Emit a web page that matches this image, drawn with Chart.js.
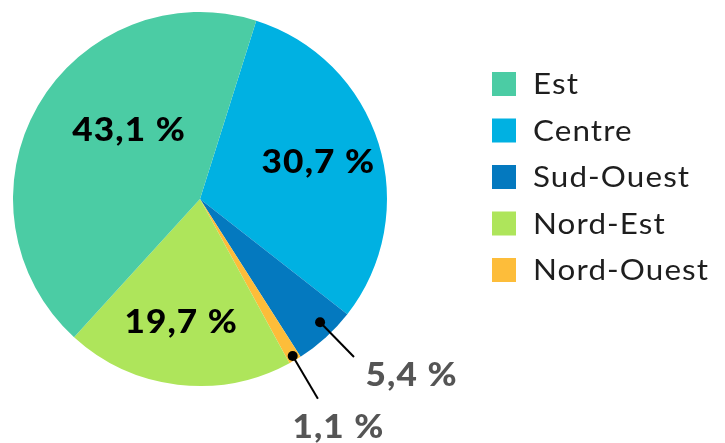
<!DOCTYPE html>
<html>
<head>
<meta charset="utf-8">
<script src="https://cdn.jsdelivr.net/npm/chart.js@4/dist/chart.umd.min.js"></script>
<style>
  html, body { margin: 0; padding: 0; background: #fff; }
  #wrap { width: 725px; height: 443px; }
</style>
</head>
<body>
<div id="wrap"><canvas id="pie" width="725" height="443"></canvas></div>
<script>
// drawing order (clockwise from the Est/Centre border)
const regions = ['Centre', 'Sud-Ouest', 'Nord-Ouest', 'Nord-Est', 'Est'];
const shares = [30.7, 5.4, 1.1, 19.7, 43.1];
const colors = ['#00b1e2', '#0479bf', '#fdbd3a', '#aee55b', '#4bcca4'];
// legend order as shown
const legendOrder = ['Est', 'Centre', 'Sud-Ouest', 'Nord-Est', 'Nord-Ouest'];

// label placement: [angle shift in deg, radius fraction] for inside labels
const insideLabels = {
    'Centre': [0, 0.66],
    'Nord-Est': [2, 0.67],
    'Est': [14, 0.53],
};
// outside labels: dot radius, line end radius, text offset from line end
const outsideLabels = {
    'Sud-Ouest': { dot: 0.92, end: 1.18, dx: 57, dy: 19, shift: -2 },
    'Nord-Ouest': { dot: 0.975, end: 1.24, dx: 20, dy: 29, shift: 0 },
};

const fmt = v => v.toFixed(1).replace('.', ',') + ' %';

// wide text: the original face is broader than Lato
function wideText(ctx, txt, x, y, sx, sp, align) {
    ctx.save();
    ctx.letterSpacing = sp + 'px';
    const w = ctx.measureText(txt).width - sp;
    ctx.translate(x, y);
    ctx.scale(sx, 1);
    ctx.fillText(txt, align === 'center' ? -w / 2 : 0, 0);
    ctx.restore();
}

const labelPlugin = {
    id: 'pieLabels',
    afterDatasetsDraw(chart) {
        const ctx = chart.ctx;
        const meta = chart.getDatasetMeta(0);
        ctx.save();
        ctx.textAlign = 'left';
        ctx.textBaseline = 'middle';
        ctx.font = '900 32px Lato';
        meta.data.forEach((arc, i) => {
            const p = arc.getProps(['x', 'y', 'startAngle', 'endAngle', 'outerRadius']);
            const mid = (p.startAngle + p.endAngle) / 2;
            const name = regions[i];
            const pt = (a, r) => [p.x + Math.cos(a) * r, p.y + Math.sin(a) * r];
            if (insideLabels[name]) {
                const [shift, rf] = insideLabels[name];
                const [x, y] = pt(mid + shift * Math.PI / 180, rf * p.outerRadius);
                ctx.fillStyle = '#000';
                wideText(ctx, fmt(shares[i]), x, y, 1.1, 1, 'center');
            } else if (outsideLabels[name]) {
                const o = outsideLabels[name];
                const a = mid + o.shift * Math.PI / 180;
                const [x1, y1] = pt(a, o.dot * p.outerRadius);
                const [x2, y2] = pt(a, o.end * p.outerRadius);
                ctx.strokeStyle = '#000';
                ctx.lineWidth = 2;
                ctx.beginPath();
                ctx.moveTo(x1, y1);
                ctx.lineTo(x2, y2);
                ctx.stroke();
                ctx.fillStyle = '#000';
                ctx.beginPath();
                ctx.arc(x1, y1, 5, 0, Math.PI * 2);
                ctx.fill();
                ctx.fillStyle = '#555';
                wideText(ctx, fmt(shares[i]), x2 + o.dx, y2 + o.dy, 1.1, 1, 'center');
            }
        });
        ctx.restore();
    }
};

const legendPlugin = {
    id: 'sideLegend',
    afterDraw(chart) {
        const ctx = chart.ctx;
        const left = chart.chartArea.right + 105;
        let top = 72;
        ctx.save();
        ctx.font = '400 28px Lato';
        ctx.textBaseline = 'middle';
        ctx.textAlign = 'left';
        legendOrder.forEach(name => {
            const i = regions.indexOf(name);
            ctx.fillStyle = colors[i];
            ctx.fillRect(left, top, 24, 24);
            ctx.fillStyle = '#1e1e1e';
            wideText(ctx, name, left + 41, top + 13, 1.12, 1, 'left');
            top += 46.5;
        });
        ctx.restore();
    }
};

const ctx_pie = document.getElementById('pie').getContext('2d');
const Chart_pie = new Chart(ctx_pie, {
    type: 'pie',
    data: {
        labels: regions,
        datasets: [{
            data: shares,
            backgroundColor: colors,
            borderWidth: 0,
        }]
    },
    options: {
        responsive: false,
        animation: false,
        rotation: 17.5,
        layout: {
            padding: { left: 13, top: 12, bottom: 57, right: 338 }
        },
        plugins: {
            legend: { display: false },
            tooltip: { enabled: false },
        }
    },
    plugins: [labelPlugin, legendPlugin]
});
</script>
</body>
</html>
